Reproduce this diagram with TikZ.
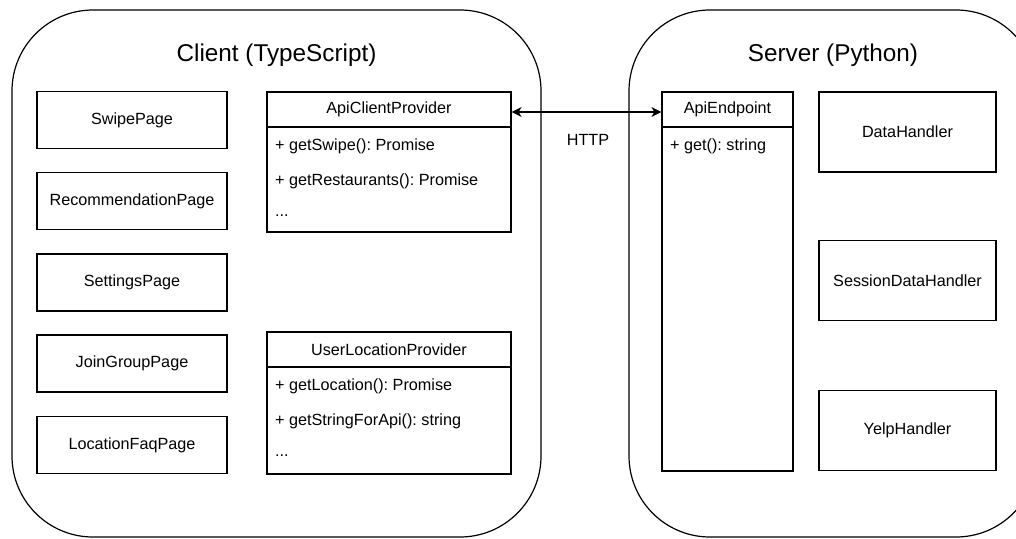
\documentclass[tikz,border=0pt]{standalone}
\usepackage{fontspec}
\setmainfont{Liberation Sans}
\usetikzlibrary{arrows.meta}

\newcommand{\bodyfont}{\fontsize{16.2}{19}\selectfont\frenchspacing}
\newcommand{\titlefont}{\fontsize{24.3}{28}\selectfont}

\begin{document}
\begin{tikzpicture}[x=1pt, y=-1pt,
    group/.style={draw, line width=1.2pt, rounded corners=81pt, inner sep=0pt},
    grouptitle/.style={font=\titlefont, inner sep=0pt},
    page/.style={draw, line width=1.2pt, font=\bodyfont, inner sep=0pt, minimum width=190, minimum height=57},
    handler/.style={draw, line width=1.2pt, font=\bodyfont, inner sep=0pt, minimum width=177, minimum height=80},
    header/.style={draw, line width=1.2pt, font=\bodyfont, inner sep=0pt, minimum height=35},
    classbody/.style={draw, line width=1.2pt, inner sep=0pt},
    member/.style={anchor=west, font=\bodyfont, inner sep=0pt},
    link/.style={{Stealth[length=10pt, width=10pt, inset=3pt]}-{Stealth[length=10pt, width=10pt, inset=3pt]}, line width=1.2pt},
]
    \useasboundingbox (0, 0) rectangle (1016, 538);
    \clip (0, 0) rectangle (1016, 538);

    % === CONTAINERS ===
    \node[group, minimum width=529, minimum height=527] (client) at (276.5, 273.5) {};
    \node[grouptitle] (clienttitle) at (276.5, 55) {Client (TypeScript)};
    \node[group, minimum width=408, minimum height=527] (server) at (833, 273.5) {};
    \node[grouptitle] (servertitle) at (833, 55) {Server (Python)};

    % === CLIENT PAGES ===
    \node[page] (swipe) at (132, 120) {SwipePage};
    \node[page] (recommendation) at (132, 201) {RecommendationPage};
    \node[page] (settings) at (132, 282.5) {SettingsPage};
    \node[page] (joingroup) at (132, 363.5) {JoinGroupPage};
    \node[page] (locationfaq) at (132, 445) {LocationFaqPage};

    % === CLIENT PROVIDERS ===
    \node[header, minimum width=244] (apiclient) at (389, 109.5) {ApiClientProvider};
    \node[classbody, minimum width=244, minimum height=105] (apiclientbody) at (389, 179.5) {};
    \node[member] (getswipe) at (275, 146) {+ getSwipe(): Promise};
    \node[member] (getrestaurants) at (275, 181) {+ getRestaurants(): Promise};
    \node[member] (apiclientmore) at (275, 216) {...};

    \node[header, minimum width=244] (userlocation) at (389, 349.5) {UserLocationProvider};
    \node[classbody, minimum width=244, minimum height=107] (userlocationbody) at (389, 420.5) {};
    \node[member] (getlocation) at (275, 386) {+ getLocation(): Promise};
    \node[member] (getstring) at (275, 421) {+ getStringForApi(): string};
    \node[member] (userlocationmore) at (275, 456) {...};

    % === SERVER ===
    \node[header, minimum width=131] (apiendpoint) at (727.5, 109.5) {ApiEndpoint};
    \node[classbody, minimum width=131, minimum height=344] (apiendpointbody) at (727.5, 299) {};
    \node[member] (getmethod) at (670, 146) {+ get(): string};

    \node[handler] (datahandler) at (907.5, 132) {DataHandler};
    \node[handler] (sessionhandler) at (907.5, 280.5) {SessionDataHandler};
    \node[handler] (yelphandler) at (907.5, 430.5) {YelpHandler};

    % === HTTP LINK ===
    \draw[link] ([yshift=-2.5]apiclient.east) -- ([yshift=-2.5]apiendpoint.west);
    \node[font=\bodyfont, inner sep=0pt] (http) at (588, 140) {HTTP};
\end{tikzpicture}
\end{document}
